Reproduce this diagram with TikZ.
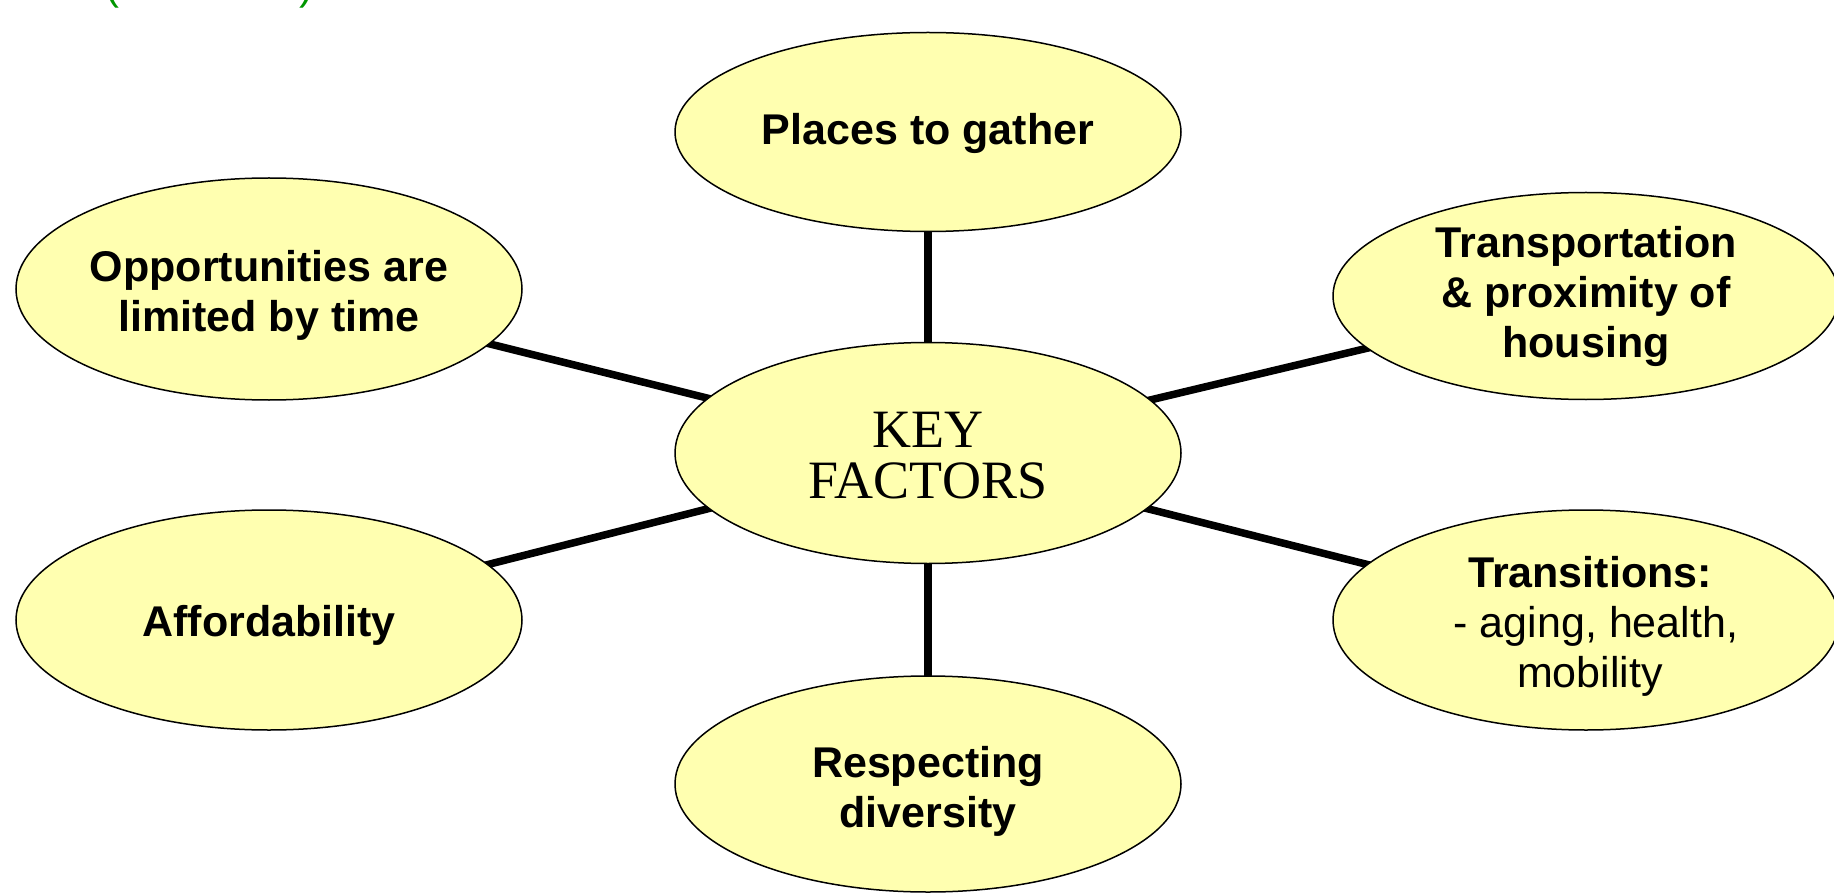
\documentclass[tikz,border=0pt]{standalone}
\usepackage{fontspec}
\setmainfont{Liberation Sans}
\newfontfamily\timesfont{Liberation Serif}
\usetikzlibrary{shapes.geometric}
\definecolor{ellfill}{RGB}{255,255,176}
\definecolor{titlegreen}{RGB}{0,150,0}
\tikzset{
  ell/.style={ellipse, draw=black, line width=1.5pt, fill=ellfill, inner sep=0pt,
              minimum width=506pt, minimum height=220pt},
  txt/.style={align=center, inner sep=0pt, font=\fontsize{43}{50}\selectfont\bfseries},
  conn/.style={line width=7.5pt, black},
  paren/.style={text=titlegreen, inner sep=0pt, anchor=south, font=\fontsize{42}{49}\selectfont}
}
\begin{document}
\begin{tikzpicture}[x=1pt,y=-1pt]
\useasboundingbox (0,0) rectangle (1834,893);
\fill[white] (0,0) rectangle (1834,893);
% clipped green parentheses at the top edge
\node[paren] (pl) at (112,8) {(};
\node[paren] (pr) at (306,8) {)};
% coordinates of ellipse centres
\coordinate (cc) at (928,453);
\coordinate (ct) at (928,132);
\coordinate (cb) at (928,784);
\coordinate (clt) at (269,289);
\coordinate (clb) at (269,620);
\coordinate (crt) at (1586,296);
\coordinate (crb) at (1586,620);
% connectors (drawn first, ellipses cover their ends)
\draw[conn] (ct) -- (cc);
\draw[conn] (cb) -- (cc);
\draw[conn] (clt) -- (cc);
\draw[conn] (clb) -- (cc);
\draw[conn] (crt) -- (cc);
\draw[conn] (crb) -- (cc);
% ellipses
\node[ell, minimum height=199pt] (top) at (ct) {};
\node[ell, minimum height=221pt] (key) at (cc) {};
\node[ell, minimum height=216pt] (bot) at (cb) {};
\node[ell, minimum height=222pt] (lt) at (clt) {};
\node[ell, minimum height=220pt] (lb) at (clb) {};
\node[ell, minimum height=207pt] (rt) at (crt) {};
\node[ell, minimum height=220pt] (rb) at (crb) {};
% texts
\node[txt] (ttop) at (928,133) {Places to gather};
\node[txt, font=\fontsize{54}{51}\selectfont\timesfont] (tkey) at (928,456) {KEY\\FACTORS};
\node[txt] (tbot) at (928,791) {Respecting\\diversity};
\node[txt] (tlt) at (269,295) {Opportunities are\\limited by time};
\node[txt] (tlb) at (269,625) {Affordability};
\node[txt] (trt) at (1586,296) {Transportation\\\& proximity of\\housing};
\node[txt] (trb) at (1590,626) {{\bfseries Transitions:}\\{\mdseries\ - aging, health,}\\{\mdseries mobility}};
\end{tikzpicture}
\end{document}
